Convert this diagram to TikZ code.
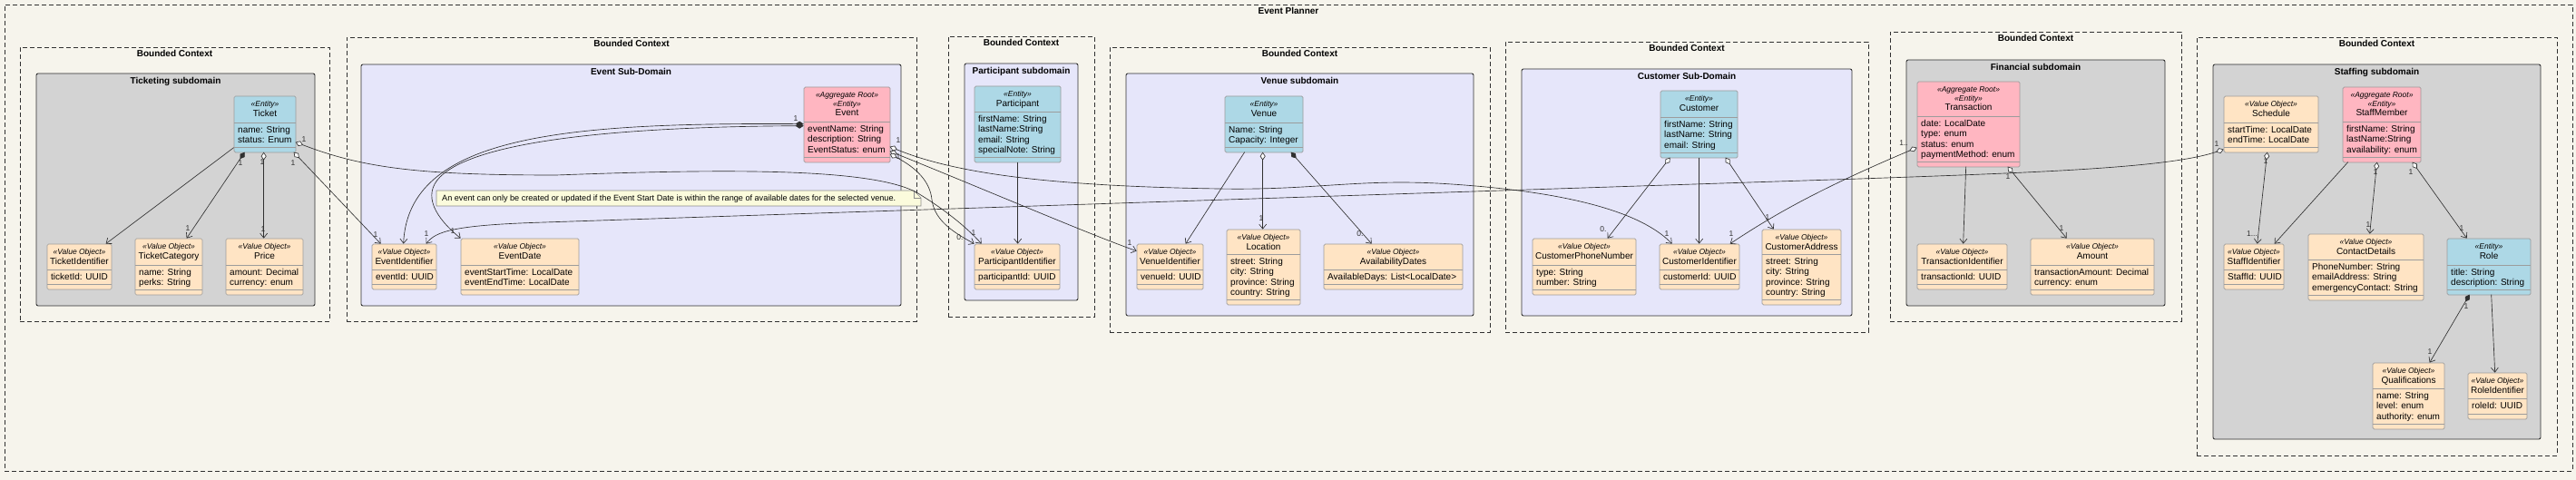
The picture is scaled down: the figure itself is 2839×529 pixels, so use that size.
\documentclass[tikz,border=0pt]{standalone}
\usepackage{fontspec}
\usepackage{graphicx}
\setmainfont{Liberation Sans}
\usetikzlibrary{arrows.meta,fit,calc}
\definecolor{bgc}{HTML}{F6F4EC}
\definecolor{entityc}{HTML}{ADD8E6}
\definecolor{aggc}{HTML}{FFB6C1}
\definecolor{voc}{HTML}{FFE4C4}
\definecolor{sdgray}{HTML}{D3D3D3}
\definecolor{sdlav}{HTML}{E6E6FA}
\definecolor{notec}{HTML}{FBFBDC}
\definecolor{linec}{HTML}{303030}
\definecolor{boxline}{HTML}{9C9C9C}
\tikzset{
  x=1pt, y=-1pt,
  classbox/.style={draw=boxline, line width=0.7pt, rounded corners=1.5pt, inner sep=0pt},
  divider/.style={draw=boxline, line width=0.6pt},
  stereo/.style={anchor=base, inner sep=0pt, font=\fontsize{8.5}{9}\selectfont\itshape},
  clsname/.style={anchor=base, inner sep=0pt, font=\fontsize{10}{11}\selectfont},
  attrtext/.style={anchor=base west, inner sep=0pt, font=\fontsize{10}{11.3}\selectfont},
  bcframe/.style={draw=linec, line width=0.7pt, dash pattern=on 5pt off 3pt, inner sep=0pt},
  sdframe/.style={draw=linec, line width=0.9pt, rounded corners=2pt, inner sep=0pt},
  ftitle/.style={anchor=base, inner sep=0pt, font=\fontsize{10}{12}\selectfont\bfseries},
  mult/.style={inner sep=0pt, font=\fontsize{8.5}{9}\selectfont, text=linec},
  assoc/.style={draw=linec, line width=0.65pt, arrows={-Straight Barb[length=5pt,width=8pt]}},
  aggr/.style={draw=linec, line width=0.65pt, arrows={Diamond[length=9pt,width=6pt,fill=white]-Straight Barb[length=5pt,width=8pt]}},
  comp/.style={draw=linec, line width=0.65pt, arrows={Diamond[length=9pt,width=6pt,fill=linec]-Straight Barb[length=5pt,width=8pt]}},
}
% #1 name, #2 x1, #3 y1, #4 x2, #5 y2, #6 divider y, #7 fill, #8 stereotypes, #9 class name
\newcommand\cls[9]{%
  \node[classbox, fill=#7, fit={(#2,#3)(#4,#5)}] (#1) {};
  \draw[divider] ({#2},{#6}) -- ({#4},{#6});
  \draw[divider] ({#2},{#5-5.5}) -- ({#4},{#5-5.5});
  \foreach \s [count=\i] in {#8} {\node[stereo] (#1-s\i) at ({(#2+#4)/2},{#3+11.7+9.5*(\i-1)}) {\s}; \xdef\nst{\i}}
  \node[clsname] (#1-n) at ({(#2+#4)/2},{#3+11.7+9.5*(\nst-1)+10.7}) {#9};
}
\newcommand\attrs[4]{\node[attrtext] (#1) at ({#2+4},{#3+11.5}) {\begin{tabular}[t]{@{}l@{}}#4\end{tabular}};}
\newcommand\bcx[6]{\node[bcframe, fit={(#2,#3)(#4,#5)}] (#1) {};
  \node[ftitle] (#1-t) at ({(#2+#4)/2},{#3+10.6}) {#6};}
\newcommand\sdx[7]{\node[sdframe, fill=#6, fit={(#2,#3)(#4,#5)}] (#1) {};
  \node[ftitle] (#1-t) at ({(#2+#4)/2},{#3+11.2}) {#7};}
\begin{document}
\begin{tikzpicture}
\useasboundingbox (0,0) rectangle (2839,529);
\fill[bgc] (0,0) rectangle (2839,529);
% outer frame
\node[bcframe, fit={(5,5)(2835,519)}] (planner) {};
\node[ftitle] (planner-t) at (1420,15.6) {Event Planner};
% bounded contexts
\bcx{bcTicket}{22}{52}{363}{354}{Bounded Context}
\bcx{bcEvent}{382}{41}{1010}{354}{Bounded Context}
\bcx{bcPart}{1045}{40}{1206}{349}{Bounded Context}
\bcx{bcVenue}{1223}{52}{1642}{366}{Bounded Context}
\bcx{bcCust}{1659}{46}{2059}{366}{Bounded Context}
\bcx{bcFin}{2083}{35}{2404}{354}{Bounded Context}
\bcx{bcStaff}{2421}{41}{2818}{502}{Bounded Context}
% subdomains
\sdx{sdTicket}{40}{81}{347}{337}{sdgray}{Ticketing subdomain}
\sdx{sdEvent}{398}{71}{993}{337}{sdlav}{Event Sub-Domain}
\sdx{sdPart}{1063}{70}{1188}{331}{sdlav}{Participant subdomain}
\sdx{sdVenue}{1241}{81}{1624}{348}{sdlav}{Venue subdomain}
\sdx{sdCust}{1677}{76}{2041}{348}{sdlav}{Customer Sub-Domain}
\sdx{sdFin}{2101}{66}{2386}{337}{sdgray}{Financial subdomain}
\sdx{sdStaff}{2439}{71}{2800}{484}{sdgray}{Staffing subdomain}
% note
\filldraw[fill=notec, draw=black!45, line width=0.6pt] (481,210) -- (1007,210) -- (1015,218) -- (1015,227) -- (481,227) -- cycle;
\draw[draw=black!45, line width=0.6pt] (1007,210) -- (1007,218) -- (1015,218);
\node[anchor=base west, inner sep=0pt, font=\fontsize{9}{10}\selectfont] (note) at (487,221.8) {\resizebox{500pt}{!}{An event can only be created or updated if the Event Start Date is within the range of available dates for the selected venue.}};
% Ticketing
\cls{ticket}{258}{106}{326}{168}{135}{entityc}{«Entity»}{Ticket}
\attrs{ticketA}{258}{135}{name: String\\status: Enum}
\cls{ticketid}{52}{269}{123}{319}{297}{voc}{«Value Object»}{TicketIdentifier}
\attrs{ticketidA}{52}{297}{ticketId: UUID}
\cls{ticketcat}{149}{263}{223}{325}{292}{voc}{«Value Object»}{TicketCategory}
\attrs{ticketcatA}{149}{292}{name: String\\perks: String}
\cls{price}{249}{263}{334}{325}{292}{voc}{«Value Object»}{Price}
\attrs{priceA}{249}{292}{amount: Decimal\\currency: enum}
% Event
\cls{event}{886}{96}{981}{179}{134}{aggc}{«Aggregate Root»,«Entity»}{Event}
\attrs{eventA}{886}{134}{eventName: String\\description: String\\EventStatus: enum}
\cls{eventid}{410}{269}{481}{319}{297}{voc}{«Value Object»}{EventIdentifier}
\attrs{eventidA}{410}{297}{eventId: UUID}
\cls{eventdate}{508}{263}{638}{325}{292}{voc}{«Value Object»}{EventDate}
\attrs{eventdateA}{508}{292}{eventStartTime: LocalDate\\eventEndTime: LocalDate}
% Participant
\cls{participant}{1074}{95}{1169}{179}{123}{entityc}{«Entity»}{Participant}
\attrs{participantA}{1074}{123}{firstName: String\\lastName:String\\email: String\\specialNote: String}
\cls{participantid}{1074}{269}{1168}{319}{297}{voc}{«Value Object»}{ParticipantIdentifier}
\attrs{participantidA}{1074}{297}{participantId: UUID}
% Venue
\cls{venue}{1350}{106}{1436}{168}{135}{entityc}{«Entity»}{Venue}
\attrs{venueA}{1350}{135}{Name: String\\Capacity: Integer}
\cls{venueid}{1253}{269}{1326}{319}{297}{voc}{«Value Object»}{VenueIdentifier}
\attrs{venueidA}{1253}{297}{venueId: UUID}
\cls{location}{1352}{253}{1433}{336}{280}{voc}{«Value Object»}{Location}
\attrs{locationA}{1352}{280}{street: String\\city: String\\province: String\\country: String}
\cls{availdates}{1459}{269}{1612}{319}{297}{voc}{«Value Object»}{AvailabilityDates}
\attrs{availdatesA}{1459}{297}{AvailableDays: List<LocalDate>}
% Customer
\cls{customer}{1830}{100}{1915}{174}{129}{entityc}{«Entity»}{Customer}
\attrs{customerA}{1830}{129}{firstName: String\\lastName: String\\email: String}
\cls{custphone}{1689}{263}{1803}{325}{292}{voc}{«Value Object»}{CustomerPhoneNumber}
\attrs{custphoneA}{1689}{292}{type: String\\number: String}
\cls{custid}{1829}{269}{1917}{319}{297}{voc}{«Value Object»}{CustomerIdentifier}
\attrs{custidA}{1829}{297}{customerId: UUID}
\cls{custaddr}{1942}{253}{2029}{336}{280}{voc}{«Value Object»}{CustomerAddress}
\attrs{custaddrA}{1942}{280}{street: String\\city: String\\province: String\\country: String}
% Financial
\cls{transaction}{2113}{90}{2226}{184}{128}{aggc}{«Aggregate Root»,«Entity»}{Transaction}
\attrs{transactionA}{2113}{128}{date: LocalDate\\type: enum\\status: enum\\paymentMethod: enum}
\cls{transid}{2113}{269}{2212}{319}{297}{voc}{«Value Object»}{TransactionIdentifier}
\attrs{transidA}{2113}{297}{transactionId: UUID}
\cls{amount}{2238}{263}{2374}{325}{292}{voc}{«Value Object»}{Amount}
\attrs{amountA}{2238}{292}{transactionAmount: Decimal\\currency: enum}
% Staffing
\cls{schedule}{2451}{106}{2555}{168}{135}{voc}{«Value Object»}{Schedule}
\attrs{scheduleA}{2451}{135}{startTime: LocalDate\\endTime: LocalDate}
\cls{staffmember}{2582}{96}{2668}{179}{134}{aggc}{«Aggregate Root»,«Entity»}{StaffMember}
\attrs{staffmemberA}{2582}{134}{firstName: String\\lastName:String\\availability: enum}
\cls{staffid}{2451}{269}{2517}{319}{297}{voc}{«Value Object»}{StaffIdentifier}
\attrs{staffidA}{2451}{297}{StaffId: UUID}
\cls{contact}{2544}{258}{2671}{331}{286}{voc}{«Value Object»}{ContactDetails}
\attrs{contactA}{2544}{286}{PhoneNumber: String\\emailAddress: String\\emergencyContact: String}
\cls{role}{2697}{263}{2789}{325}{292}{entityc}{«Entity»}{Role}
\attrs{roleA}{2697}{292}{title: String\\description: String}
\cls{qualif}{2615}{400}{2694}{473}{428}{voc}{«Value Object»}{Qualifications}
\attrs{qualifA}{2615}{428}{name: String\\level: enum\\authority: enum}
\cls{roleid}{2720}{411}{2785}{462}{439}{voc}{«Value Object»}{RoleIdentifier}
\attrs{roleidA}{2720}{439}{roleId: UUID}
% ---------- connectors ----------
\draw[assoc] ($(ticket.north west)+(0,57)$) -- ($(ticketid.north west)+(65,0)$);
\draw[comp] ($(ticket.north west)+(12,62)$) -- ($(ticketcat.north west)+(57,0)$);
\draw[aggr] ($(ticket.north west)+(33,62)$) -- ($(price.north west)+(42,0)$);
\draw[aggr] ($(ticket.north west)+(66,62)$) -- ($(eventid.north west)+(10,0)$);
\draw[aggr] ($(ticket.north west)+(68,51)$) .. controls (400,185) and (460,193) .. (613,193)
   .. controls (800,186) and (960,185) .. (1010,212)
   .. controls (1040,230) and (1065,250) .. ($(participantid.north west)+(8,0)$);
\draw[comp] ($(event.north west)+(0,41)$) .. controls (620,135) and (450,150) .. ($(eventid.north west)+(35,0)$);
\draw[comp] ($(event.north west)+(0,43)$) .. controls (650,140) and (520,160) .. (485,195)
   .. controls (465,215) and (480,240) .. (eventdate.north west);
\draw[aggr] ($(schedule.north west)+(0,59)$) .. controls (2390,185) and (2250,190) .. (2050,197)
   .. controls (1500,215) and (900,235) .. (600,245)
   .. controls (500,248) and (480,255) .. ($(eventid.north west)+(60,0)$);
\draw[aggr] ($(event.north west)+(95,66)$) .. controls (1050,190) and (1150,205) .. (1343,208)
   .. controls (1450,210) and (1500,196) .. (1600,203)
   .. controls (1750,213) and (1815,240) .. ($(custid.north west)+(14,0)$);
\draw[aggr] ($(event.north west)+(95,71)$) .. controls (1100,215) and (1200,258) .. ($(venueid.north west)+(0,8)$);
\draw[aggr] ($(event.north west)+(95,74)$) .. controls (1010,185) and (1025,200) .. (1027,220)
   .. controls (1030,245) and (1055,258) .. (participantid.north west);
\draw[assoc] ($(participant.north west)+(48,84)$) -- ($(participantid.north west)+(48,0)$);
\draw[assoc] ($(venue.north west)+(22,62)$) -- ($(venueid.north west)+(54,0)$);
\draw[aggr] ($(venue.north west)+(42,62)$) -- ($(location.north west)+(40,0)$);
\draw[comp] ($(venue.north west)+(73,62)$) -- ($(availdates.north west)+(53,0)$);
\draw[aggr] ($(customer.north west)+(11,74)$) -- ($(custphone.north west)+(83,0)$);
\draw[assoc] ($(customer.north west)+(43,74)$) -- ($(custid.north west)+(44,0)$);
\draw[aggr] ($(customer.north west)+(72,74)$) -- ($(custaddr.north west)+(13,0)$);
\draw[aggr] ($(transaction.north west)+(0,73)$) .. controls (2000,210) and (1950,240) .. ($(custid.north west)+(78,0)$);
\draw[assoc] ($(transaction.north west)+(54,94)$) -- ($(transid.north west)+(51,0)$);
\draw[aggr] ($(transaction.north west)+(100,94)$) -- ($(amount.north west)+(40,0)$);
\draw[aggr] ($(schedule.north west)+(48,62)$) -- ($(staffid.north west)+(37,0)$);
\draw[assoc] ($(staffmember.north west)+(6,83)$) -- ($(staffid.north west)+(56,0)$);
\draw[aggr] ($(staffmember.north west)+(38,83)$) -- ($(contact.north west)+(68,0)$);
\draw[aggr] ($(staffmember.north west)+(77,83)$) -- ($(role.north west)+(22,0)$);
\draw[comp] ($(role.north west)+(25,62)$) -- ($(qualif.north west)+(63,0)$);
\draw[assoc] ($(role.north west)+(49,62)$) -- ($(roleid.north west)+(30,0)$);
% ---------- multiplicities ----------
\node[mult] (m1) at (265,180) {1};
\node[mult] (m2) at (207,252) {1};
\node[mult] (m3) at (289,179) {1};
\node[mult] (m4) at (290,253) {1};
\node[mult] (m5) at (323,180) {1};
\node[mult] (m6) at (414,259) {1};
\node[mult] (m7) at (335,154) {1};
\node[mult] (m8) at (877,131) {1};
\node[mult] (m9) at (470,258) {1};
\node[mult] (m10) at (499,255) {1};
\node[mult] (m11) at (990,155) {1};
\node[mult] (m12) at (990,173) {1};
\node[mult] (m13) at (1058,262) {0.};
\node[mult] (m14) at (1073,257) {1};
\node[mult] (m15) at (1245,268) {1};
\node[mult] (m16) at (1390,241) {1};
\node[mult] (m17) at (1499,258) {0.};
\node[mult] (m18) at (1767,253) {0.};
\node[mult] (m19) at (1837,258) {1};
\node[mult] (m20) at (1908,258) {1};
\node[mult] (m21) at (1948,240) {1};
\node[mult] (m22) at (2098,158) {1..};
\node[mult] (m23) at (2213,195) {1};
\node[mult] (m24) at (2272,252) {1};
\node[mult] (m25) at (2443,159) {1};
\node[mult] (m26) at (2497,178) {1};
\node[mult] (m27) at (2482,258) {1...};
\node[mult] (m28) at (2618,190) {1};
\node[mult] (m29) at (2610,248) {1};
\node[mult] (m30) at (2657,190) {1};
\node[mult] (m31) at (2713,252) {1};
\node[mult] (m32) at (2718,338) {1};
\node[mult] (m33) at (2678,388) {1};
\end{tikzpicture}
\end{document}
